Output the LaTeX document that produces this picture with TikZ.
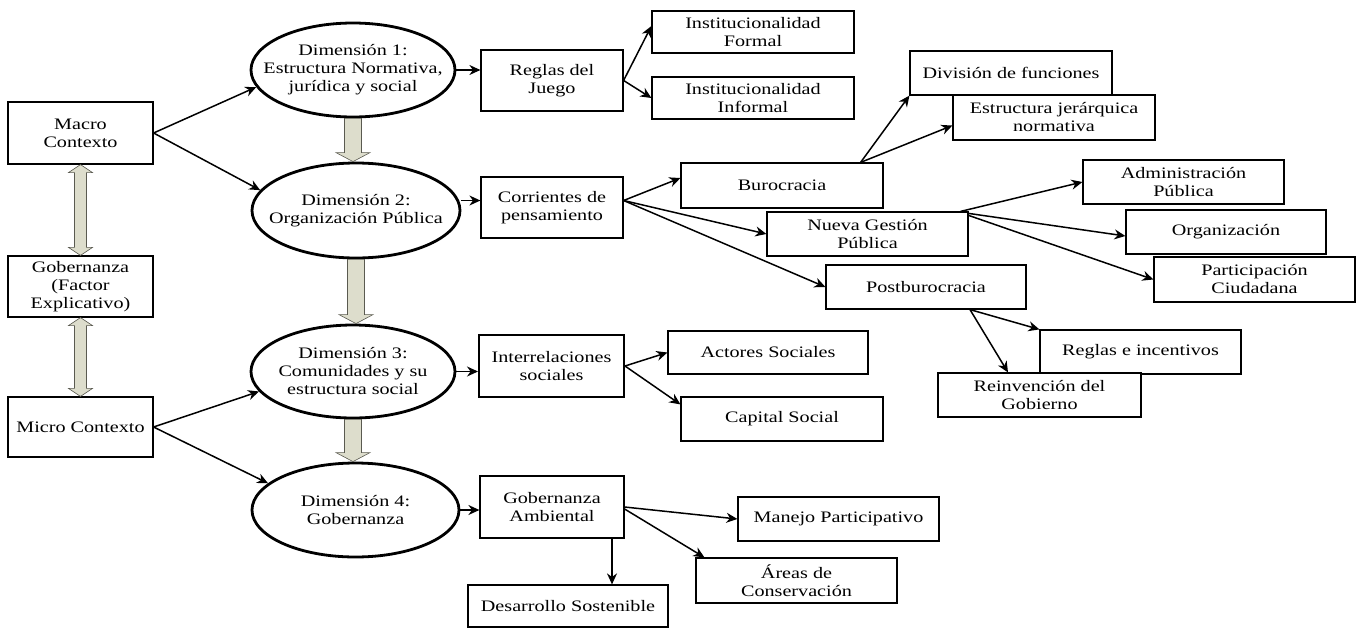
\documentclass[tikz,border=0pt]{standalone}
\usepackage{fontspec}
\setmainfont{Liberation Serif}[FakeStretch=1.26]
\usetikzlibrary{shapes.geometric,arrows.meta,calc}

\definecolor{blockfill}{RGB}{221,221,204}
\definecolor{blockline}{RGB}{90,90,80}

\tikzset{
  txt/.style={font=\fontsize{16}{18}\selectfont, align=center, text=black},
  box/.style={txt, draw, line width=1.2pt, inner sep=0pt, rectangle},
  dim/.style={draw, ellipse, line width=2.8pt, inner sep=0pt,
              minimum width=204pt, minimum height=94pt},
  arr/.style={-{Stealth[length=11pt,width=10pt]}, line width=1.5pt},
  blk/.style={fill=blockfill, draw=blockline, line width=0.6pt, line join=miter}
}

% wide hollow arrow pointing down, from #1 to the height of #2
\newcommand\blockdown[2]{%
  \filldraw[blk] ($(#1)+(-8.5,0)$) -- ($(#1)+(8.5,0)$)
    -- ($(#1|-#2)+(8.5,-9)$) -- ($(#1|-#2)+(17,-9)$) -- (#1|-#2)
    -- ($(#1|-#2)+(-17,-9)$) -- ($(#1|-#2)+(-8.5,-9)$) -- cycle;}

% wide hollow double arrow between #1 (above) and #2 (below)
\newcommand\blockboth[2]{%
  \filldraw[blk] (#1) -- ($(#1)+(12,8)$) -- ($(#1)+(6,8)$)
    -- ($(#1|-#2)+(6,-8)$) -- ($(#1|-#2)+(12,-8)$) -- (#1|-#2)
    -- ($(#1|-#2)+(-12,-8)$) -- ($(#1|-#2)+(-6,-8)$)
    -- ($(#1)+(-6,8)$) -- ($(#1)+(-12,8)$) -- cycle;}

\begin{document}
\begin{tikzpicture}[x=1pt,y=-1pt]
\useasboundingbox (0,0) rectangle (1365,627);

% left column
\node[box, minimum width=145pt, minimum height=62pt] (macro) at (80.5,133) {Macro\\Contexto};
\node[box, minimum width=145pt, minimum height=61pt] (gob) at (80.5,286.5) {Gobernanza\\(Factor\\Explicativo)};
\node[box, minimum width=145pt, minimum height=60pt] (micro) at (80.5,427) {Micro Contexto};

% the four dimensions: ellipse outlines with their labels on top
\node[dim] (d1) at (353,70) {};
\node[txt] (d1t) at (d1) {Dimensión 1:\\Estructura Normativa,\\jurídica y social};
\node[dim, minimum width=208pt, minimum height=95pt] (d2) at (356,210.5) {};
\node[txt] (d2t) at (d2) {Dimensión 2:\\Organización Pública};
\node[dim, minimum height=93pt] (d3) at (353,371.5) {};
\node[txt] (d3t) at (d3) {Dimensión 3:\\Comunidades y su\\estructura social};
\node[dim, minimum width=207pt] (d4) at (355.5,510) {};
\node[txt] (d4t) at (d4) {Dimensión 4:\\Gobernanza};

% dimension 1 branch
\node[box, minimum width=142pt, minimum height=61pt] (reglas) at (552,80.5) {Reglas del\\Juego};
\node[box, minimum width=202pt, minimum height=42pt] (iform) at (753,32) {Institucionalidad\\Formal};
\node[box, minimum width=202pt, minimum height=42pt] (iinf) at (753,98) {Institucionalidad\\Informal};

% dimension 2 branch
\node[box, minimum width=142pt, minimum height=61pt] (corr) at (552,207.5) {Corrientes de\\pensamiento};
\node[box, minimum width=202pt, minimum height=45pt] (buro) at (782,185.5) {Burocracia};
\node[box, minimum width=201pt, minimum height=44pt] (ngp) at (867.5,234) {Nueva Gestión\\Pública};
\node[box, minimum width=200pt, minimum height=44pt] (postb) at (926,287) {Postburocracia};
\node[box, minimum width=202pt, minimum height=44pt] (divf) at (1011,73) {División de funciones};
\node[box, minimum width=202pt, minimum height=45pt] (estj) at (1054,117.5) {Estructura jerárquica\\normativa};
\node[box, minimum width=201pt, minimum height=44pt] (admin) at (1183.5,182) {Administración\\Pública};
\node[box, minimum width=200pt, minimum height=44pt] (org) at (1226,232) {Organización};
\node[box, minimum width=201pt, minimum height=45pt] (part) at (1254.5,279.5) {Participación\\Ciudadana};
\node[box, minimum width=201pt, minimum height=44pt] (rinc) at (1140.5,352) {Reglas e incentivos};
\node[box, minimum width=203pt, minimum height=44pt, fill=white] (reinv) at (1039.5,395) {Reinvención del\\Gobierno};

% dimension 3 branch
\node[box, line width=2pt, minimum width=145pt, minimum height=62pt] (inter) at (551.5,366) {Interrelaciones\\sociales};
\node[box, minimum width=200pt, minimum height=43pt] (actores) at (768,352.5) {Actores Sociales};
\node[box, minimum width=202pt, minimum height=44pt] (capital) at (782,419) {Capital Social};

% dimension 4 branch
\node[box, minimum width=144pt, minimum height=62pt] (gamb) at (552,507) {Gobernanza\\Ambiental};
\node[box, minimum width=201pt, minimum height=44pt] (manejo) at (838.5,519) {Manejo Participativo};
\node[box, minimum width=201pt, minimum height=45pt] (areas) at (796.5,580.5) {Áreas de\\Conservación};
\node[box, minimum width=200pt, minimum height=42pt] (desarr) at (568,606) {Desarrollo Sostenible};

% wide arrows
\blockdown{d1.south}{d2.north}
\blockdown{d2.south}{d3.north}
\blockdown{d3.south}{d4.north}
\blockboth{macro.south}{gob.north}
\blockboth{gob.south}{micro.north}

% contexts to dimensions
\draw[arr] (macro.east) -- (d1.190);
\draw[arr] (macro.east) -- (d2.168);
\draw[arr] (micro.east) -- (d3.192);
\draw[arr] (micro.east) -- (d4.163);

% dimension 1
\draw[arr] (d1.east) -- (d1.east -| reglas.west);
\draw[arr] (reglas.east) -- ($(iform.west)+(0,-6)$);
\draw[arr] (reglas.east) -- (iinf.west);

% dimension 2
\coordinate (cs) at ($(corr.east)+(0,-7)$);
\draw[arr] (cs -| d2.east) -- (cs -| corr.west);
\draw[arr] (cs) -- ($(buro.west)+(0,-7.5)$);
\draw[arr] (cs) -- (ngp.west);
\draw[arr] (cs) -- (postb.west);
\coordinate (bs) at ($(buro.north east)+(-23,0)$);
\draw[arr] (bs) -- (divf.south west);
\draw[arr] (bs) -- ($(estj.west)+(0,8)$);
\draw[arr] ($(ngp.north east)+(-8,0)$) -- (admin.west);
\draw[arr] ($(ngp.north east)+(0,2)$) -- ($(org.west)+(0,4)$);
\draw[arr] ($(ngp.north east)+(0,4)$) -- (part.west);
\coordinate (ps) at ($(postb.south)+(44,0)$);
\draw[arr] (ps) -- (rinc.north west);
\draw[arr] (ps) -- ($(reinv.north)+(-31.5,0)$);

% dimension 3
\draw[arr] (d3.east) -- (d3.east -| inter.west);
\draw[arr] (inter.east) -- (actores.west);
\draw[arr] (inter.east) -- ($(capital.north west)+(0,8)$);

% dimension 4
\draw[arr] (d4.east) -- (d4.east -| gamb.west);
\draw[arr] (gamb.east) -- (manejo.west);
\draw[arr] ($(gamb.east)+(0,2)$) -- ($(areas.north west)+(9,0)$);
\coordinate (gs) at ($(gamb.south)+(60,0)$);
\draw[arr] (gs) -- (gs |- desarr.north);
\end{tikzpicture}
\end{document}
